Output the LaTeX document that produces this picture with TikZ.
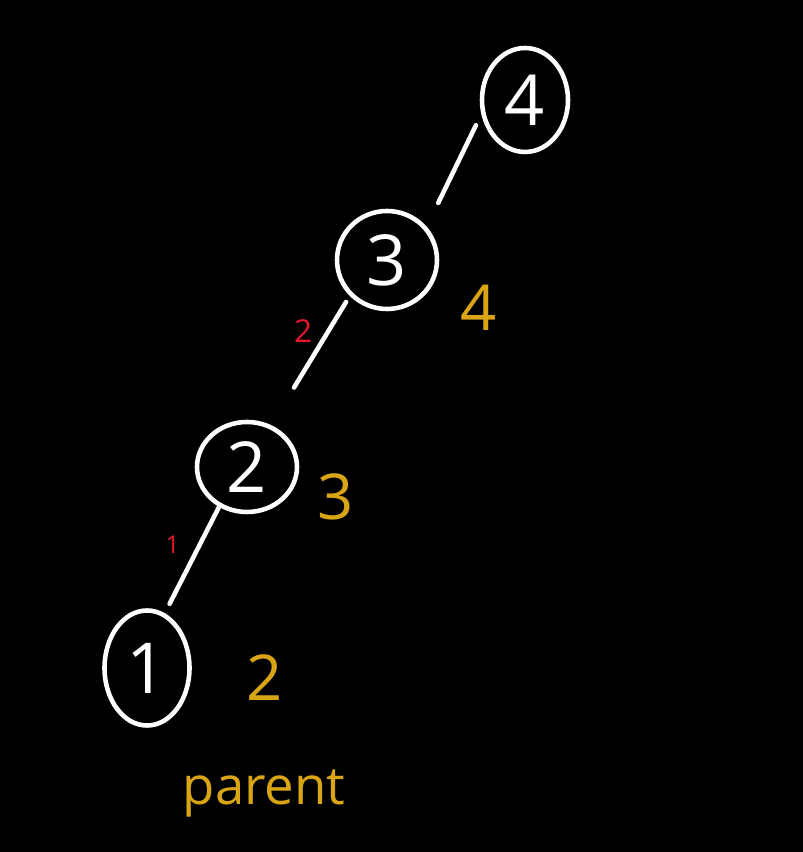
\documentclass[tikz,border=0pt]{standalone}
\usepackage{fontspec}
\setmainfont{Open Sans}
\usetikzlibrary{shapes.geometric, positioning}
\definecolor{gold}{HTML}{D9A514}
\definecolor{tick}{HTML}{E3162D}
\tikzstyle{vertex}=[ellipse,draw=white,line width=1.3pt,text=white,inner sep=0pt,font=\fontsize{20}{20}\selectfont]
\tikzstyle{rank}=[text=gold,inner sep=1pt,font=\fontsize{18}{18}\selectfont]
\tikzstyle{link}=[draw=white,line width=1.3pt,line cap=round]
\tikzstyle{weight}=[text=tick,inner sep=1pt]

\begin{document}
\begin{tikzpicture}
		
		\fill[black] (0,0) rectangle (8.03,8.52);
		\useasboundingbox (0,0) rectangle (8.03,8.52);
		
		\node (n1) [vertex, minimum width=0.85cm, minimum height=1.15cm] at (1.47,1.84) {1};
		\node (n2) [vertex, minimum width=1.0cm, minimum height=0.9cm] at (2.47,3.85) {2};
		\node (n3) [vertex, minimum width=1.0cm, minimum height=0.98cm] at (3.87,5.92) {3};
		\node (n4) [vertex, minimum width=0.86cm, minimum height=1.04cm] at (5.25,7.52) {4};
		
		\node (r1) [rank, right=0.5cm of n1, yshift=-0.1cm] {2};
		\node (r2) [rank, right=0.14cm of n2, yshift=-0.3cm] {3};
		\node (r3) [rank, right=0.17cm of n3, yshift=-0.48cm] {4};
		\node (par) [rank, below=0.6cm of r1, font=\fontsize{15}{15}\selectfont] {parent};
		
		\draw[link, shorten <=3pt] (n1.72) -- node[weight, pos=0.64, left=4pt, font=\fontsize{7}{7}\selectfont] {1} (n2.235);
		\draw[link, shorten <=12.5pt, shorten >=2pt] (n2.60) -- node[weight, pos=0.73, left=3pt, font=\fontsize{9}{9}\selectfont] {2} (n3.224);
		\draw[link, shorten <=7.5pt, shorten >=3.5pt] (n3.40) -- (n4.198);
		
\end{tikzpicture}
\end{document}
